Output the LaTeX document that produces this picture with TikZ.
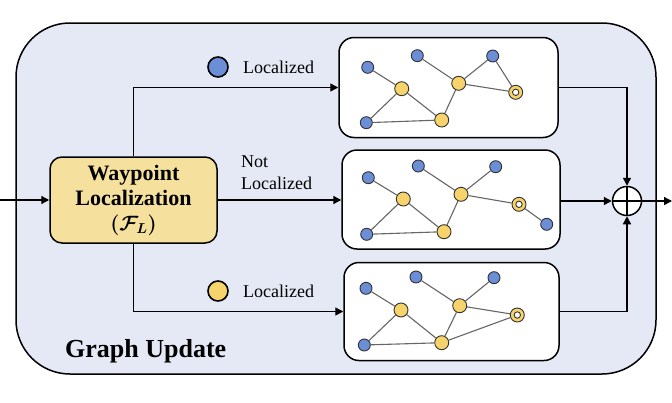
\documentclass[tikz,border=0pt]{standalone}
\usepackage{fontspec}
\setmainfont{Liberation Serif}
\usetikzlibrary{arrows.meta,calc}
\definecolor{bgpanel}{HTML}{E5E9F5}
\definecolor{nblue}{HTML}{6C8ED6}
\definecolor{nyellow}{HTML}{F7D46B}
\definecolor{boxfill}{HTML}{F5E09E}
\definecolor{edgegray}{HTML}{666666}
\tikzset{
  flow/.style={line width=1.4pt,-{Triangle[length=8pt,width=8pt]}},
  panel/.style={draw,line width=1.5pt,fill=white,rounded corners=15pt,inner sep=0pt},
  bnode/.style={circle,draw=black!80,line width=0.9pt,fill=nblue,minimum size=12pt,inner sep=0pt},
  ynode/.style={circle,draw=black!80,line width=0.9pt,fill=nyellow,minimum size=14pt,inner sep=0pt},
  rnode/.style={ynode,path picture={\draw[black!80,line width=0.9pt,fill=white] (path picture bounding box.center) circle (3.2pt);}},
  gedge/.style={draw=edgegray,line width=1.1pt},
  lbl/.style={font=\fontsize{18}{20}\selectfont,inner sep=0pt},
  legend/.style={circle,draw=black,line width=1.6pt,minimum size=20pt,inner sep=0pt},
}
\begin{document}
\begin{tikzpicture}[x=1pt,y=-1pt]
\useasboundingbox (0,0) rectangle (672,402);
% outer panel
\draw[line width=1.5pt,fill=bgpanel,rounded corners=54pt] (16,23) rectangle (656,374);
\node[anchor=base west,inner sep=0pt,font=\fontsize{26}{30}\selectfont\bfseries] (title) at (65,357) {Graph Update};

% waypoint box
\node[draw,line width=1.5pt,fill=boxfill,rounded corners=12pt,minimum width=167pt,minimum height=86pt,align=center,inner sep=0pt,font=\fontsize{22}{25}\selectfont\bfseries\boldmath] (wl) at (133.5,200) {Waypoint\\Localization\\$(\mathcal{F}_{L})$};
\coordinate (in) at (0,200);
\draw[flow] (in) -- (wl.west);

% panels
\node[panel,minimum width=219pt,minimum height=100pt] (p1) at (448.5,87.5) {};
\node[panel,minimum width=218pt,minimum height=99pt] (p2) at (451,199.5) {};
\node[panel,minimum width=215pt,minimum height=98pt] (p3) at (451.5,311.5) {};

% oplus
\node[circle,draw,line width=1.5pt,fill=white,minimum size=29pt,inner sep=0pt] (op) at (627,201) {};
\draw[line width=1.3pt] (op.north) -- (op.south) (op.west) -- (op.east);
\coordinate (out) at (672,201);

% flows
\draw[flow] (wl.north) |- (p1.west);
\draw[flow] (wl.east) -- (wl.east -| p2.west);
\draw[flow] (wl.south) |- (p3.west);
\draw[flow] (p1.east) -| (op.north);
\draw[flow] (p3.east) -| (op.south);
\draw[flow] (p2.east |- op.west) -- (op.west);
\draw[flow] (op.east) -- (out);

% labels
\node[legend,fill=nblue] (lg1) at (218,67) {};
\node[lbl,anchor=west] (l1) at (243,67) {Localized};
\node[lbl,anchor=west,align=left,font=\fontsize{18}{22}\selectfont] (l2) at (241,173) {Not\\Localized};
\node[legend,fill=nyellow] (lg3) at (218,291) {};
\node[lbl,anchor=west] (l3) at (243,291) {Localized};

% graph 1
\node[bnode] (a1) at (367.7,67.3) {};
\node[bnode] (b1) at (417.3,55.7) {};
\node[bnode] (c1) at (492.7,56) {};
\node[ynode] (d1) at (401.7,88.7) {};
\node[ynode] (e1) at (458.7,83.3) {};
\node[rnode] (f1) at (515.7,92.3) {};
\node[bnode] (g1) at (366.3,122.7) {};
\node[ynode] (h1) at (441.7,120) {};
\draw[gedge] (a1)--(d1) (d1)--(g1) (d1)--(h1) (g1)--(h1) (h1)--(e1) (b1)--(e1) (e1)--(c1) (c1)--(f1) (e1)--(f1);

% graph 2
\node[bnode] (a2) at (368.3,177.7) {};
\node[bnode] (b2) at (418.3,166) {};
\node[bnode] (c2) at (495.7,166.7) {};
\node[ynode] (d2) at (403.3,199) {};
\node[ynode] (e2) at (461,194.3) {};
\node[rnode] (f2) at (519,204.3) {};
\node[bnode] (g2) at (366.7,234.3) {};
\node[ynode] (h2) at (444,231.7) {};
\node[bnode] (i2) at (546.7,224.3) {};
\draw[gedge] (a2)--(d2) (d2)--(g2) (d2)--(h2) (g2)--(h2) (h2)--(e2) (b2)--(e2) (e2)--(c2) (e2)--(f2) (f2)--(i2);

% graph 3
\node[bnode] (a3) at (366,288.3) {};
\node[bnode] (b3) at (416,277) {};
\node[bnode] (c3) at (494,277.7) {};
\node[ynode] (d3) at (401,310) {};
\node[ynode] (e3) at (459.7,305.7) {};
\node[rnode] (f3) at (517.3,315) {};
\node[bnode] (g3) at (364.3,345) {};
\node[ynode] (h3) at (441.7,342.7) {};
\draw[gedge] (a3)--(d3) (d3)--(g3) (d3)--(h3) (g3)--(h3) (h3)--(e3) (b3)--(e3) (e3)--(c3) (e3)--(f3) (h3)--(f3);
\end{tikzpicture}
\end{document}
